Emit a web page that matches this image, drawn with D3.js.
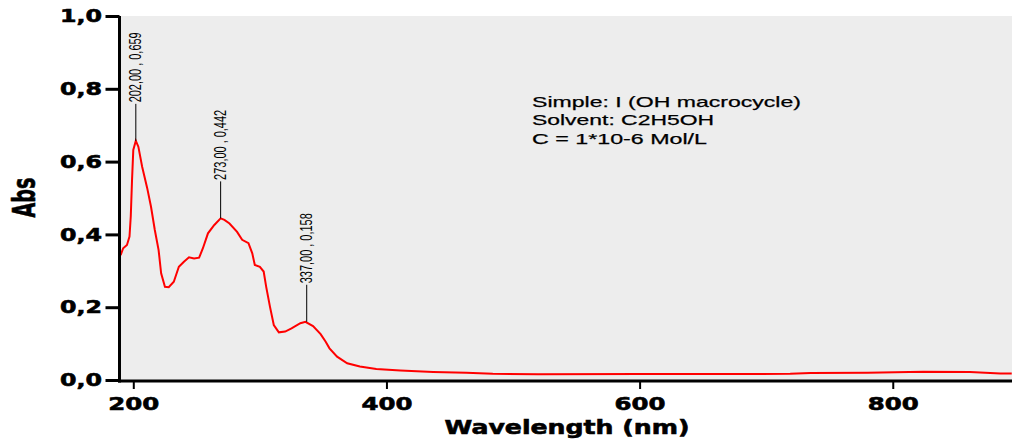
<!DOCTYPE html>
<html>
<head>
<meta charset="utf-8">
<script src="https://cdn.jsdelivr.net/npm/d3@7"></script>
<style>
body { margin: 0; background: #fff; }
svg { display: block; }
</style>
</head>
<body>
<div id="container"></div>
<script>
// spectrum (nm, Abs)
var wavelengths = [190, 192, 195, 197, 198, 199, 200, 202, 204, 207, 211, 214, 217, 220, 222, 225, 228, 232, 236, 240,
    244, 248, 252, 255, 259, 264, 269, 272, 276, 282, 286, 291, 294, 296, 300, 303, 305, 308, 311, 315,
    320, 325, 332, 336, 342, 348, 352, 355, 361, 369, 379, 392, 411, 437, 463, 484, 520, 600, 680, 719,
    735, 780, 824, 861, 885, 894];
var absValues = [0.343, 0.362, 0.371, 0.394, 0.449, 0.549, 0.632, 0.657, 0.641, 0.586, 0.527, 0.476, 0.412, 0.357, 0.293, 0.256, 0.255, 0.27, 0.311, 0.325,
    0.337, 0.334, 0.336, 0.362, 0.403, 0.426, 0.444, 0.44, 0.43, 0.407, 0.385, 0.376, 0.348, 0.316, 0.311, 0.298, 0.256, 0.201, 0.151, 0.131,
    0.133, 0.142, 0.156, 0.16, 0.148, 0.126, 0.105, 0.087, 0.064, 0.046, 0.037, 0.03, 0.026, 0.022, 0.02, 0.017, 0.016, 0.0165, 0.0165, 0.017,
    0.019, 0.02, 0.023, 0.022, 0.018, 0.018];

var peakWavelengths = [202, 269, 337];
var peakAbs = [0.657, 0.444, 0.16];
var peakLabels = ["202,00 , 0,659", "273,00 , 0,442", "337,00 , 0,158"];

var xTicks = [200, 400, 600, 800];
var yTicks = [0, 0.2, 0.4, 0.6, 0.8, 1.0];
var noteLines = ["Simple: I (OH macrocycle)", "Solvent: C2H5OH", "C = 1*10-6 Mol/L"];

var svgAttr = { width: 1012, height: 440 };
var plot = { left: 120, right: 1012, top: 16, bottom: 380 };

var svg = d3.select("#container").append("svg")
    .attr("width", svgAttr.width).attr("height", svgAttr.height);

var x = d3.scaleLinear().domain([189.5, 894.2]).range([plot.left, plot.right]);
var y = d3.scaleLinear().domain([0, 1]).range([plot.bottom, plot.top]);
var fmt = function (d) { return d3.format(".1f")(d).replace(".", ","); };

svg.append("rect")
    .attr("x", plot.left).attr("y", plot.top)
    .attr("width", plot.right - plot.left).attr("height", plot.bottom - plot.top)
    .attr("fill", "#ededed");

svg.append("defs").append("clipPath").attr("id", "clip")
    .append("rect").attr("x", plot.left).attr("y", plot.top)
    .attr("width", plot.right - plot.left).attr("height", plot.bottom - plot.top);

var spectrum = wavelengths.map(function (w, i) { return [w, absValues[i]]; });
var line = d3.line()
    .x(function (d) { return x(d[0]); })
    .y(function (d) { return y(d[1]); });

svg.append("path").datum(spectrum)
    .attr("clip-path", "url(#clip)")
    .attr("d", line)
    .attr("fill", "none")
    .attr("stroke", "#ff0000")
    .attr("stroke-width", 2);

// y axis
var yAxis = svg.append("g").attr("transform", "translate(" + (plot.left - 0.5) + ",0)")
    .call(d3.axisLeft(y).tickValues(yTicks).tickFormat(fmt).tickSize(14).tickSizeOuter(0).tickPadding(3.5));
yAxis.select(".domain").remove();
yAxis.selectAll(".tick line").attr("stroke", "#000").attr("stroke-width", 3);
yAxis.selectAll(".tick text")
    .attr("font-family", "DejaVu Sans").attr("font-weight", "bold").attr("font-size", 18)
    .attr("fill", "#000").attr("stroke", "#000").attr("stroke-width", 0.6)
    .attr("textLength", 42).attr("lengthAdjust", "spacingAndGlyphs");

// x axis
var xAxis = svg.append("g").attr("transform", "translate(0," + (plot.bottom + 1) + ")")
    .call(d3.axisBottom(x).tickValues(xTicks).tickFormat(d3.format("d")).tickSize(8).tickSizeOuter(0));
xAxis.select(".domain").remove();
xAxis.selectAll(".tick line").attr("stroke", "#000").attr("stroke-width", 2);
xAxis.selectAll(".tick text")
    .attr("y", 29).attr("dy", 0)
    .attr("font-family", "DejaVu Sans").attr("font-weight", "bold").attr("font-size", 18)
    .attr("fill", "#000").attr("stroke", "#000").attr("stroke-width", 0.6)
    .attr("textLength", 51).attr("lengthAdjust", "spacingAndGlyphs");

// axis lines
svg.append("line").attr("x1", plot.left - 0.5).attr("x2", plot.left - 0.5)
    .attr("y1", plot.top).attr("y2", plot.bottom + 2.5)
    .attr("stroke", "#000").attr("stroke-width", 3);
svg.append("line").attr("x1", plot.left - 2).attr("x2", plot.right)
    .attr("y1", plot.bottom + 1).attr("y2", plot.bottom + 1)
    .attr("stroke", "#000").attr("stroke-width", 3);

// axis titles
svg.append("text").attr("x", 567).attr("y", 434)
    .attr("text-anchor", "middle")
    .attr("font-family", "DejaVu Sans").attr("font-weight", "bold").attr("font-size", 20)
    .attr("stroke", "#000").attr("stroke-width", 0.6)
    .attr("textLength", 245).attr("lengthAdjust", "spacingAndGlyphs")
    .text("Wavelength (nm)");
svg.append("text").attr("transform", "translate(35,197.5) rotate(-90)")
    .attr("text-anchor", "middle")
    .attr("font-family", "DejaVu Sans").attr("font-weight", "bold").attr("font-size", 32)
    .attr("stroke", "#000").attr("stroke-width", 0.6)
    .attr("textLength", 40).attr("lengthAdjust", "spacingAndGlyphs")
    .text("Abs");

// peak markers
var peaks = svg.append("g").selectAll("g")
    .data(peakWavelengths.map(function (w, i) { return { w: w, a: peakAbs[i], label: peakLabels[i] }; }))
    .enter().append("g");
peaks.append("line")
    .attr("x1", function (d) { return x(d.w); }).attr("x2", function (d) { return x(d.w); })
    .attr("y1", function (d) { return y(d.a); }).attr("y2", function (d) { return y(d.a) - 37; })
    .attr("stroke", "#000").attr("stroke-width", 1);
peaks.append("text")
    .attr("transform", function (d) { return "translate(" + (x(d.w) - 0.5) + "," + (y(d.a) - 38.5) + ") rotate(-90)"; })
    .attr("dy", "0.36em")
    .attr("font-family", "Liberation Sans").attr("font-size", 17)
    .attr("textLength", 70).attr("lengthAdjust", "spacingAndGlyphs")
    .text(function (d) { return d.label; });

// sample note
svg.append("g").selectAll("text").data(noteLines).enter().append("text")
    .attr("x", 532)
    .attr("y", function (d, i) { return 107 + i * 18.3; })
    .attr("font-family", "Liberation Sans").attr("font-size", 15)
    .attr("stroke", "#000").attr("stroke-width", 0.25)
    .attr("textLength", function (d, i) { return [269, 182, 175][i]; })
    .attr("lengthAdjust", "spacingAndGlyphs")
    .text(function (d) { return d; });
</script>
</body>
</html>
